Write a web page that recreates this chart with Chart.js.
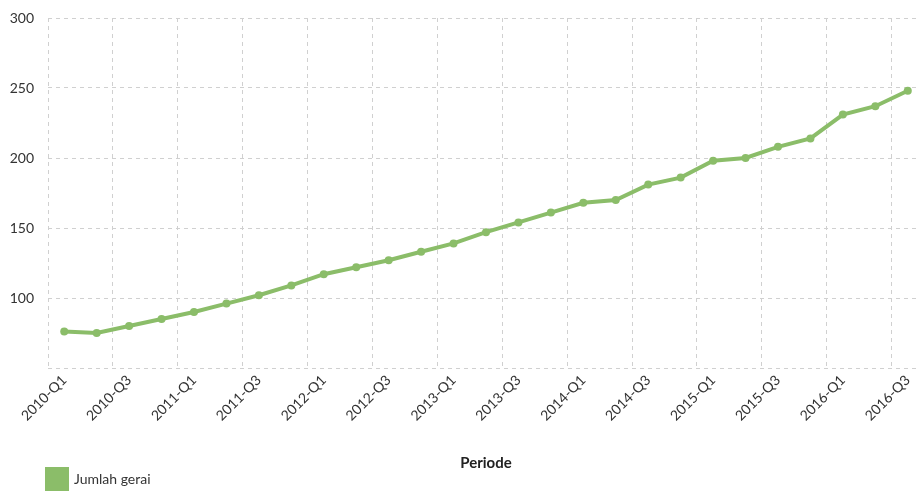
<!DOCTYPE html>
<html>
<head>
<meta charset="utf-8">
<script src="https://cdn.jsdelivr.net/npm/chart.js@4/dist/chart.umd.min.js"></script>
<style>
  html, body { margin: 0; padding: 0; background: #fff; overflow: hidden; }
  #wrap { position: relative; width: 928px; height: 491px; }
</style>
</head>
<body>
<div id="wrap"><canvas id="c"></canvas></div>
<script>
// Quarterly periods
const periods = [
  '2010-Q1','2010-Q2','2010-Q3','2010-Q4',
  '2011-Q1','2011-Q2','2011-Q3','2011-Q4',
  '2012-Q1','2012-Q2','2012-Q3','2012-Q4',
  '2013-Q1','2013-Q2','2013-Q3','2013-Q4',
  '2014-Q1','2014-Q2','2014-Q3','2014-Q4',
  '2015-Q1','2015-Q2','2015-Q3','2015-Q4',
  '2016-Q1','2016-Q2','2016-Q3'
];

// Number of outlets per quarter
const jumlahGerai = [
  76, 75, 80, 85,
  90, 96, 102, 109,
  117, 122, 127, 133,
  139, 147, 154, 161,
  168, 170, 181, 186,
  198, 200, 208, 214,
  231, 237, 248
];

const yTicks = [50, 100, 150, 200, 250, 300];

const green = '#8bbd69';
const gridColor = '#d0d0d0';
const textColor = '#333';

// Keep the legend under the plot's left edge, just below the axis title
const legendPlacement = {
  id: 'legendPlacement',
  afterLayout(chart) {
    const lg = chart.legend;
    if (!lg) return;
    const dx = chart.chartArea.left - 3 - lg.left;
    lg.left += dx;
    lg.right += dx;
    const dy = 467 - lg.top;
    lg.top += dy;
    lg.bottom += dy;
  }
};

new Chart(document.getElementById('c'), {
  type: 'line',
  data: {
    labels: periods,
    datasets: [{
      label: 'Jumlah gerai',
      data: jumlahGerai,
      borderColor: green,
      backgroundColor: green,
      borderWidth: 4,
      pointRadius: 4,
      pointBackgroundColor: green,
      pointBorderColor: green,
      pointBorderWidth: 0,
      tension: 0,
      fill: false
    }]
  },
  options: {
    responsive: true,
    maintainAspectRatio: false,
    animation: false,
    layout: { padding: { left: 4, right: 0, top: 18, bottom: -13 } },
    plugins: {
      legend: {
        position: 'bottom',
        align: 'start',
        labels: {
          boxWidth: 20,
          boxHeight: 20,
          color: textColor,
          font: { family: 'Lato', size: 14 },
          padding: 2
        }
      },
      tooltip: { enabled: false }
    },
    scales: {
      x: {
        offset: true,
        border: { display: false, dash: [4, 4] },
        grid: {
          offset: true,
          drawTicks: false,
          color: (ctx) => (ctx.index % 2 === 0 ? gridColor : 'rgba(0,0,0,0)'),
          lineWidth: 1
        },
        ticks: {
          autoSkip: false,
          maxRotation: 45,
          minRotation: 45,
          padding: 4,
          color: textColor,
          font: { family: 'Lato', size: 14 },
          callback: function (value, index) {
            return index % 2 === 0 ? this.getLabelForValue(value) : '';
          }
        },
        title: {
          display: true,
          text: 'Periode',
          color: '#222',
          font: { family: 'Lato', size: 15, weight: 'bold' },
          padding: { top: 0, bottom: 0 }
        },
        afterFit(scale) {
          scale.height = 104;
          scale.paddingLeft = 0;
          scale.paddingRight = 0;
        }
      },
      y: {
        min: yTicks[0],
        max: yTicks[yTicks.length - 1],
        border: { display: false, dash: [4, 4] },
        afterBuildTicks: (scale) => { scale.ticks = yTicks.map(v => ({ value: v })); },
        grid: {
          drawTicks: false,
          color: gridColor,
          lineWidth: 1
        },
        ticks: {
          padding: 14,
          color: textColor,
          font: { family: 'Lato', size: 14 },
          callback: (value) => (value === yTicks[0] ? '' : value)
        },
        afterFit(scale) {
          scale.width = 44;
          scale.paddingTop = 0;
          scale.paddingBottom = 0;
        }
      }
    }
  },
  plugins: [legendPlacement]
});
</script>
</body>
</html>
